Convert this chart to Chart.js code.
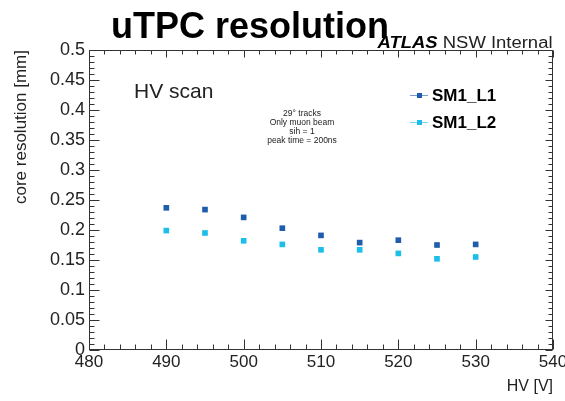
<!DOCTYPE html>
<html>
<head>
<meta charset="utf-8">
<script src="https://cdn.jsdelivr.net/npm/chart.js@4"></script>
<style>
html, body { margin: 0; padding: 0; background: #fff; }
</style>
</head>
<body>
<canvas id="resolution-chart" width="565" height="401"></canvas>
<script>
// HV scan data
const hvValues = [490, 495, 500, 505, 510, 515, 520, 525, 530];
const resL1 = [0.237, 0.234, 0.221, 0.203, 0.191, 0.179, 0.183, 0.175, 0.176];
const resL2 = [0.199, 0.195, 0.182, 0.176, 0.167, 0.167, 0.161, 0.152, 0.155];
const seriesNames = ["SM1_L1", "SM1_L2"];
const seriesColors = ["#1f5cab", "#1dbfe8"];
const xTicks = [480, 490, 500, 510, 520, 530, 540];
const yTicks = [0, 0.05, 0.1, 0.15, 0.2, 0.25, 0.3, 0.35, 0.4, 0.45, 0.5];
const infoLines = ["29\u00b0 tracks", "Only muon beam", "sih = 1", "peak time = 200ns"];

const font = "'Liberation Sans', Arial, sans-serif";
const axisColor = "#333";

function toPoints(xs, ys) {
  return xs.map((x, i) => ({ x: x, y: ys[i] }));
}

// ROOT style frame, tick marks, labels and legend
const rootStyle = {
  id: "rootStyle",
  afterDraw(chart) {
    const ctx = chart.ctx;
    const area = chart.chartArea;
    const xs = chart.scales.x;
    const ys = chart.scales.y;
    ctx.save();
    ctx.strokeStyle = axisColor;
    ctx.lineWidth = 1;
    const L = Math.round(area.left) + 0.5, R = Math.round(area.right) - 0.5;
    const T = Math.round(area.top) + 0.5, B = Math.round(area.bottom) - 0.5;
    ctx.strokeRect(L, T, R - L, B - T);

    ctx.beginPath();
    for (let v = xs.min; v <= xs.max + 1e-9; v += 2) {
      const px = Math.round(xs.getPixelForValue(v)) + 0.5;
      const major = Math.abs(v % 10) < 1e-9;
      ctx.moveTo(px, B); ctx.lineTo(px, B - (major ? 10 : 5));
      ctx.moveTo(px, T); ctx.lineTo(px, T + (major ? 7 : 4));
    }
    for (let k = 0; k <= 50; k++) {
      const py = Math.round(ys.getPixelForValue(k * 0.01)) + 0.5;
      const major = k % 5 === 0;
      ctx.moveTo(L, py); ctx.lineTo(L + (major ? 10 : 5), py);
      ctx.moveTo(R, py); ctx.lineTo(R - (major ? 7 : 4), py);
    }
    ctx.stroke();

    // title
    ctx.fillStyle = "#000";
    ctx.textBaseline = "alphabetic";
    ctx.textAlign = "center";
    ctx.font = "bold 36px " + font;
    ctx.fillText("uTPC resolution", 250, 38);

    // ATLAS label, stretched a little to the width in the reference
    ctx.textAlign = "left";
    ctx.font = "italic bold 16px " + font;
    const wA = ctx.measureText("ATLAS").width;
    ctx.font = "16px " + font;
    const wN = ctx.measureText(" NSW Internal").width;
    const sx = 175 / (wA + wN);
    ctx.save();
    ctx.translate(R - 175, 48);
    ctx.scale(sx, 1);
    ctx.font = "italic bold 16px " + font;
    ctx.fillText("ATLAS", 0, 0);
    ctx.font = "16px " + font;
    ctx.fillStyle = "#222";
    ctx.fillText(" NSW Internal", wA, 0);
    ctx.restore();

    // HV scan + info
    ctx.fillStyle = "#222";
    ctx.font = "21px " + font;
    ctx.fillText("HV scan", 134, 98);
    ctx.textAlign = "center";
    ctx.font = "8.5px " + font;
    infoLines.forEach((t, i) => ctx.fillText(t, 302, 116 + i * 9));

    // legend
    chart.data.datasets.forEach((ds, i) => {
      const y = 95 + i * 27;
      ctx.strokeStyle = ds.backgroundColor;
      ctx.globalAlpha = 0.6;
      ctx.beginPath();
      ctx.moveTo(410, y + 0.5); ctx.lineTo(428, y + 0.5);
      ctx.stroke();
      ctx.globalAlpha = 1;
      ctx.fillStyle = ds.backgroundColor;
      ctx.fillRect(417, y - 2, 5, 5);
      ctx.fillStyle = "#000";
      ctx.textAlign = "left";
      ctx.textBaseline = "middle";
      ctx.font = "bold 17px " + font;
      ctx.fillText(ds.label, 432, y + 1);
    });
    ctx.restore();
  }
};

const chartData = {
  datasets: [
    { label: seriesNames[0], data: toPoints(hvValues, resL1), backgroundColor: seriesColors[0] },
    { label: seriesNames[1], data: toPoints(hvValues, resL2), backgroundColor: seriesColors[1] }
  ]
};

const chartOptions = {
  responsive: false,
  animation: false,
  layout: { padding: { top: 50, right: 12, left: 0, bottom: 0 } },
  elements: {
    point: { pointStyle: "rect", radius: 4, borderWidth: 0 }
  },
  plugins: {
    legend: { display: false },
    tooltip: { enabled: false }
  },
  scales: {
    x: {
      type: "linear",
      min: 480,
      max: 540,
      grid: { display: false, drawTicks: false },
      border: { display: false },
      afterBuildTicks: s => { s.ticks = xTicks.map(v => ({ value: v })); },
      afterFit: s => { s.height = 51; s.paddingLeft = 0; s.paddingRight = 0; },
      ticks: {
        color: "#222",
        font: { family: font, size: 17 },
        padding: 2,
        maxRotation: 0,
        autoSkip: false
      },
      title: {
        display: true,
        text: "HV [V]",
        align: "end",
        color: "#222",
        font: { family: font, size: 16 },
        padding: { top: 0, bottom: 5 }
      }
    },
    y: {
      min: 0,
      max: 0.5,
      grid: { display: false, drawTicks: false },
      border: { display: false },
      afterBuildTicks: s => { s.ticks = yTicks.map(v => ({ value: v })); },
      afterFit: s => { s.width = 89; s.paddingTop = 0; s.paddingBottom = 0; },
      ticks: {
        color: "#222",
        font: { family: font, size: 18 },
        padding: 4,
        autoSkip: false,
        callback: v => String(+v.toFixed(2))
      },
      title: {
        display: true,
        text: "core resolution [mm]",
        align: "end",
        color: "#222",
        font: { family: font, size: 17 },
        padding: { top: 11, bottom: 0 }
      }
    }
  }
};

const resolutionChart = new Chart(document.getElementById("resolution-chart"), {
  type: "scatter",
  data: chartData,
  options: chartOptions,
  plugins: [rootStyle]
});
</script>
</body>
</html>
